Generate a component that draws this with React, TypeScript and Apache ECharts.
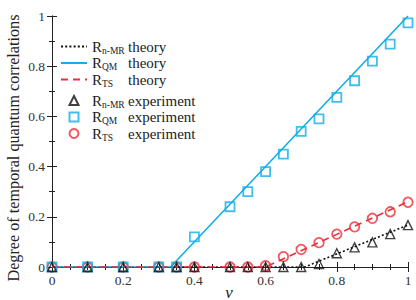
import React, { useEffect, useRef } from "react";
import * as echarts from "echarts";

const expX = [0, 0.1, 0.2, 0.3, 0.35, 0.4, 0.5, 0.55, 0.6, 0.65, 0.7, 0.75, 0.8, 0.85, 0.9, 0.95, 1];
const qmExp = [0, 0, 0, 0, 0, 0.12, 0.24, 0.3, 0.38, 0.45, 0.54, 0.59, 0.676, 0.742, 0.82, 0.888, 0.973];
const tsExp = [0, 0, 0, 0, 0, 0, 0, 0, 0.005, 0.041, 0.07, 0.097, 0.131, 0.16, 0.194, 0.22, 0.258];
const nmrExp = [0, 0, 0, 0, 0, 0, 0, 0, 0, 0, 0, 0.012, 0.055, 0.078, 0.098, 0.131, 0.167];

const qmTheoryX = [0, 0.333, 1];
const qmTheoryY = [0, 0, 1];
const tsTheoryX = [0, 0.6, 0.7, 0.8, 0.9, 1];
const tsTheoryY = [0, 0, 0.065, 0.13, 0.195, 0.26];
const nmrTheoryX = [0, 0.71, 0.8, 0.9, 1];
const nmrTheoryY = [0, 0, 0.052, 0.11, 0.167];

const xTicks = [0, 0.2, 0.4, 0.6, 0.8, 1];
const yTicks = [0, 0.2, 0.4, 0.6, 0.8, 1];

const xTitle = "v";
const yTitle = "Degree of temporal quantum correlations";

const theoryLegend = [
  ["nmrT", "n-MR", "theory"],
  ["qmT", "QM", "theory"],
  ["tsT", "TS", "theory"],
];
const expLegend = [
  ["nmrE", "n-MR", "experiment"],
  ["qmE", "QM", "experiment"],
  ["tsE", "TS", "experiment"],
];

const BLUE = "#12aee8";
const RED = "#ec2f3a";
const BLACK = "#111";
const FONT = "'Liberation Serif', 'DejaVu Serif', serif";

const zip = (xs: number[], ys: number[]) => xs.map((x, i) => [x, ys[i]]);

export default function App() {
  const ref = useRef<HTMLDivElement>(null);
  useEffect(() => {
    const chart = echarts.init(ref.current!, null, { renderer: "svg" });
    const axisCommon = {
      type: "value" as const,
      min: 0,
      max: 1,
      interval: 0.2,
      axisLine: { show: true, lineStyle: { color: "#222", width: 1 } },
      axisTick: { show: true, inside: true, length: 5, lineStyle: { color: "#222" } },
      minorTick: { show: true, length: 3, lineStyle: { color: "#222" } },
      splitLine: { show: false },
    };
    const labelStyle = {
      fontFamily: FONT,
      fontSize: 13.5,
      color: "#333",
    };
    const fmt = (v: number) => (xTicks.includes(v) || yTicks.includes(v) ? String(v) : "");
    const rich = (extraPad: number) => ({
      p: { width: extraPad, lineHeight: 18 },
      r: { fontFamily: FONT, fontSize: 15, lineHeight: 18, color: "#222", verticalAlign: "middle" },
      s: { fontFamily: FONT, fontSize: 9.5, lineHeight: 10, width: 26, color: "#222", verticalAlign: "bottom" },
      t: { fontFamily: FONT, fontSize: 15, lineHeight: 18, color: "#222", verticalAlign: "middle" },
    });
    const mkFmt = (list: string[][], pad: boolean) => (name: string) => {
      const l = list.find((e) => e[0] === name)!;
      return `${pad ? "{p|}" : ""}{r|R}{s|${l[1]}}{t|${l[2]}}`;
    };
    const hidden = { color: "rgba(0,0,0,0)", borderColor: "rgba(0,0,0,0)", borderWidth: 0 };
    chart.setOption({
      animation: false,
      grid: { left: 52, right: 8, top: 16, bottom: 33, outerBoundsMode: "none", containLabel: false },
      graphic: [
        {
          type: "text",
          x: 14,
          y: 148,
          rotation: Math.PI / 2,
          style: {
            text: yTitle,
            fontFamily: FONT,
            fontSize: 16.2,
            fill: "#222",
            align: "center",
            verticalAlign: "middle",
          },
        },
        {
          type: "text",
          x: 229,
          y: 292,
          style: {
            text: xTitle,
            fontFamily: FONT,
            fontSize: 17,
            fontStyle: "italic",
            fill: "#222",
            align: "center",
            verticalAlign: "middle",
          },
        },
      ],
      xAxis: [
        {
          ...axisCommon,
          position: "bottom",
          minorTick: { ...axisCommon.minorTick, splitNumber: 4 },
          axisLabel: { ...labelStyle, margin: 6, formatter: fmt },
        },
        {
          ...axisCommon,
          position: "top",
          minorTick: { ...axisCommon.minorTick, splitNumber: 4 },
          axisLabel: { show: false },
        },
      ],
      yAxis: [
        {
          ...axisCommon,
          position: "left",
          minorTick: { ...axisCommon.minorTick, splitNumber: 2 },
          axisLabel: { ...labelStyle, margin: 7, formatter: fmt },
        },
        {
          ...axisCommon,
          position: "right",
          minorTick: { ...axisCommon.minorTick, splitNumber: 2 },
          axisLabel: { show: false },
        },
      ],
      legend: [
        {
          orient: "vertical",
          left: 55,
          top: 34,
          itemWidth: 26,
          itemHeight: 9,
          itemGap: 0,
          data: theoryLegend.map((l) => ({ name: l[0], itemStyle: hidden })),
          formatter: mkFmt(theoryLegend, false),
          textStyle: { fontFamily: FONT, color: "#222", rich: rich(0) },
        },
        {
          orient: "vertical",
          left: 63.5,
          top: 88,
          itemWidth: 9,
          itemHeight: 9,
          itemGap: 0,
          data: expLegend.map((l) => l[0]),
          formatter: mkFmt(expLegend, true),
          textStyle: { fontFamily: FONT, color: "#222", rich: rich(8.5) },
        },
      ],
      series: [
        {
          name: "nmrT",
          type: "line",
          data: zip(nmrTheoryX, nmrTheoryY),
          symbol: "none",
          lineStyle: { color: BLACK, width: 1.6, type: [2, 2.2] },
          itemStyle: { color: BLACK },
          z: 2,
        },
        {
          name: "qmT",
          type: "line",
          data: zip(qmTheoryX, qmTheoryY),
          symbol: "none",
          lineStyle: { color: BLUE, width: 1.6 },
          itemStyle: { color: BLUE },
          z: 2,
        },
        {
          name: "tsT",
          type: "line",
          data: zip(tsTheoryX, tsTheoryY),
          symbol: "none",
          lineStyle: { color: RED, width: 1.6, type: [7, 5] },
          itemStyle: { color: RED },
          z: 2,
        },
        {
          name: "nmrE",
          type: "scatter",
          data: zip(expX, nmrExp),
          symbol: "triangle",
          symbolSize: 9,
          itemStyle: { color: "rgba(255,255,255,0)", borderColor: BLACK, borderWidth: 1.4 },
          z: 5,
        },
        {
          name: "qmE",
          type: "scatter",
          data: zip(expX, qmExp),
          symbol: "rect",
          symbolSize: 9,
          itemStyle: { color: "rgba(255,255,255,0)", borderColor: BLUE, borderWidth: 1.8 },
          z: 4,
        },
        {
          name: "tsE",
          type: "scatter",
          data: zip(expX, tsExp),
          symbol: "circle",
          symbolSize: 9.5,
          itemStyle: { color: "rgba(255,255,255,0)", borderColor: RED, borderWidth: 1.8 },
          z: 3,
        },
      ],
    });
    return () => chart.dispose();
  }, []);
  return (
    <div
      ref={ref}
      style={{ position: "fixed", left: 0, top: 0, width: 416, height: 300, background: "#fff" }}
    />
  );
}
